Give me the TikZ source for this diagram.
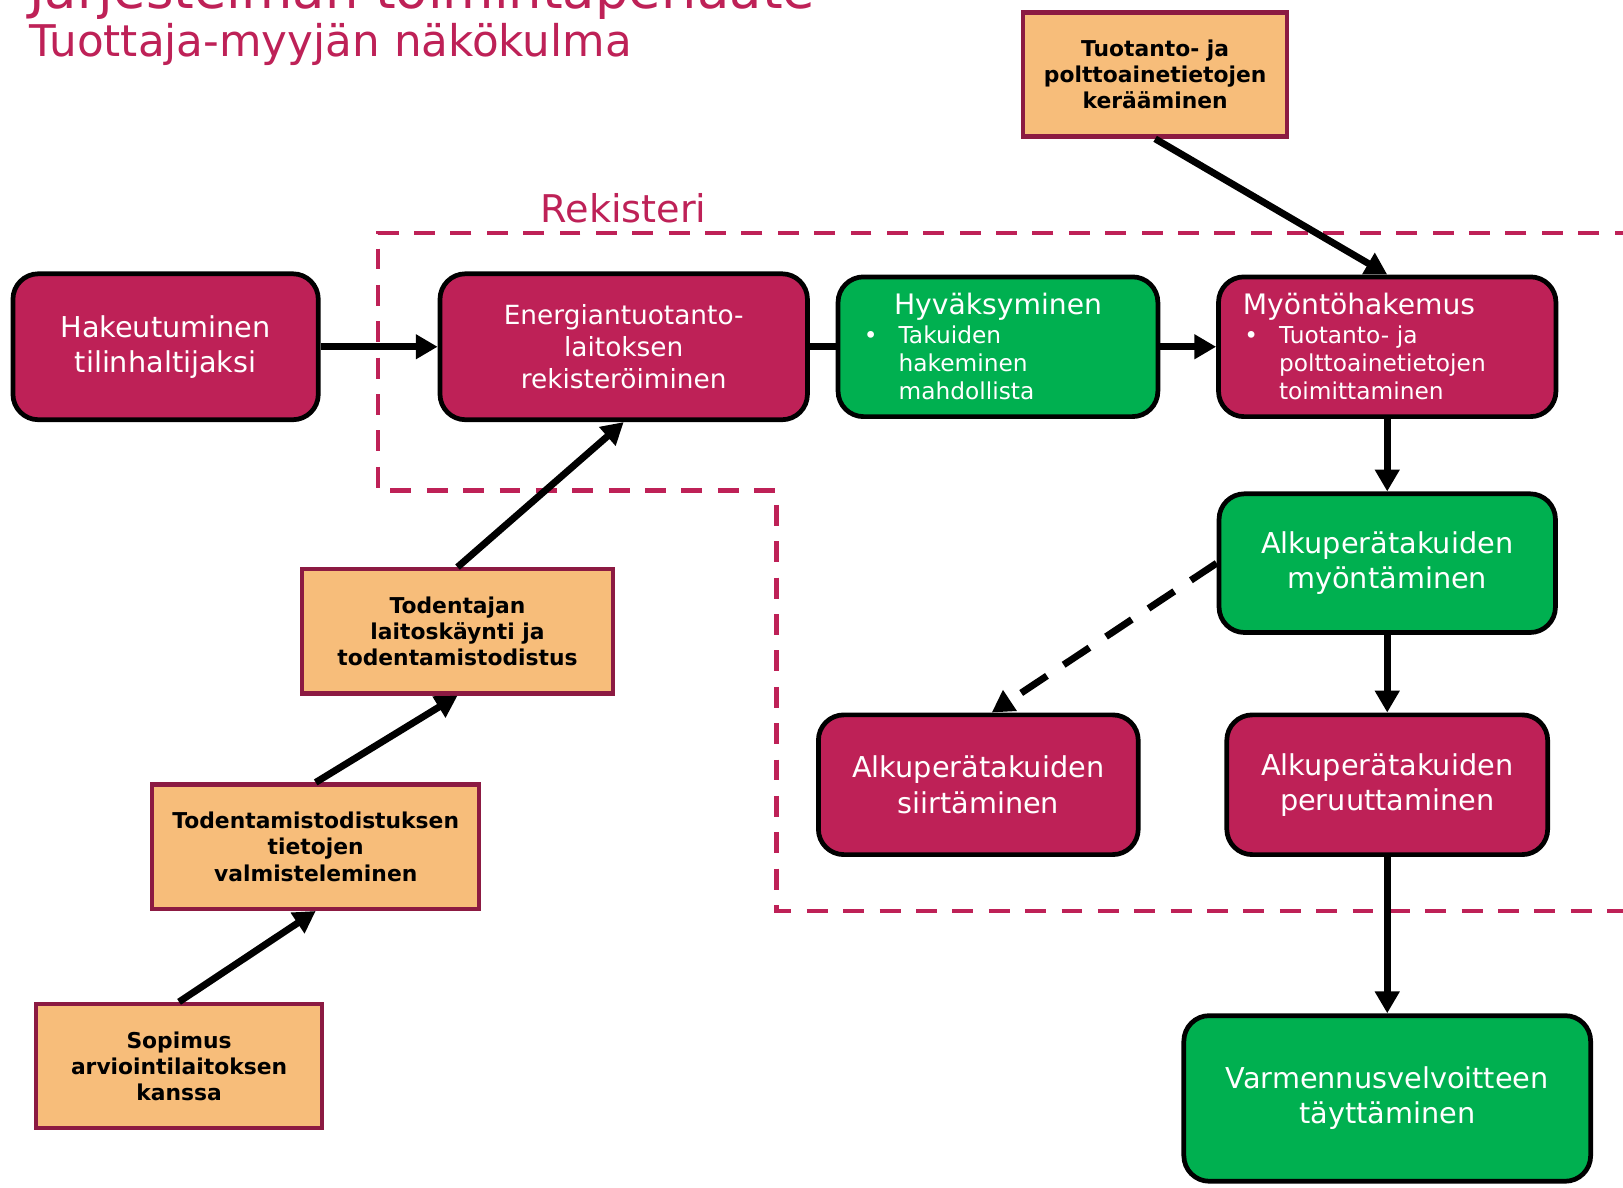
\documentclass[tikz,border=0pt]{standalone}
\usepackage{fontspec}
\setmainfont{DejaVu Sans}
\usetikzlibrary{arrows.meta,positioning}

\definecolor{rekpun}{RGB}{190,33,87}
\definecolor{hyvvihr}{RGB}{0,176,80}
\definecolor{tietooranssi}{RGB}{247,189,122}
\definecolor{tietoreuna}{RGB}{140,26,66}

\newcommand{\isofontti}{\fontsize{15.8}{19.3}\selectfont}
\newcommand{\luettelo}[1]{\par\hspace*{0.5cm}\makebox[0.67cm][l]{\textbullet}\parbox[t]{4.6cm}{\raggedright #1}}

\tikzset{
  vaihe/.style={draw=black, line width=2.6pt, rounded corners=14pt, text=white,
    align=center, font=\isofontti, minimum height=2.82cm, inner sep=0pt},
  punavaihe/.style={vaihe, fill=rekpun},
  vihrvaihe/.style={vaihe, fill=hyvvihr},
  tietolaatikko/.style={draw=tietoreuna, fill=tietooranssi, line width=2.4pt,
    align=center, font=\fontsize{12}{14.4}\selectfont\bfseries,
    minimum height=2.4cm, inner sep=0pt},
  nuoli/.style={line width=3.8pt, -{Triangle[length=12pt,width=13pt]}},
  rajaus/.style={draw=rekpun, line width=2.5pt, dash pattern=on 11.5pt off 8.5pt},
  otsikko/.style={text=rekpun, anchor=base west, inner sep=0pt}
}

\begin{document}
\begin{tikzpicture}[x=0.2mm, y=-0.2mm]
  \useasboundingbox (0,0) rectangle (1568,1147);
  \fill[white] (0,0) rectangle (1568,1147);

  % otsikot
  \node[otsikko, font=\fontsize{29}{34}\selectfont] (otsikko1) at (28,8) {Järjestelmän toimintaperiaate};
  \node[otsikko, font=\fontsize{24}{29}\selectfont] (otsikko2) at (28,55) {Tuottaja-myyjän näkökulma};

  % rekisterin raja
  \draw[rajaus] (1580,225) -- (365,225) -- (365,474) -- (750,474) -- (750,880) -- (1580,880);
  \node[otsikko, font=\fontsize{21}{25}\selectfont] (rekisteri) at (522,215) {Rekisteri};

  % vaiheet
  \node[punavaihe, minimum width=5.9cm] (hakeutuminen) at (160,335) {Hakeutuminen\\tilinhaltijaksi};
  \node[punavaihe, minimum width=7.1cm, font=\fontsize{14.5}{17.6}\selectfont,
        right=2.26cm of hakeutuminen] (rekisterointi) {Energiantuotanto-\\laitoksen\\rekisteröiminen};
  \node[vihrvaihe, minimum width=6.18cm, minimum height=2.7cm, text width=6.18cm, align=left,
        font=\fontsize{12.8}{15.6}\selectfont, right=0.5cm of rekisterointi] (hyvaksyminen)
        {{\centering\fontsize{15.5}{18}\selectfont Hyväksyminen\par}\luettelo{Takuiden\\hakeminen\\mahdollista}};
  \node[punavaihe, minimum width=6.52cm, minimum height=2.7cm, text width=6.52cm, align=left,
        font=\fontsize{12.8}{15.6}\selectfont, right=1.08cm of hyvaksyminen] (myontohakemus)
        {\hspace*{0.47cm}{\fontsize{15.5}{18}\selectfont Myöntöhakemus}\par\luettelo{Tuotanto- ja\\polttoainetietojen\\toimittaminen}};
  \node[vihrvaihe, minimum width=6.5cm, minimum height=2.68cm, below=1.4cm of myontohakemus] (myontaminen) {Alkuperätakuiden\\myöntäminen};
  \node[punavaihe, minimum width=6.2cm, minimum height=2.7cm, below=1.5cm of myontaminen] (peruuttaminen) {Alkuperätakuiden\\peruuttaminen};
  \node[punavaihe, minimum width=6.18cm, minimum height=2.7cm, left=1.62cm of peruuttaminen] (siirtaminen) {Alkuperätakuiden\\siirtäminen};
  \node[vihrvaihe, minimum width=7.86cm, minimum height=3.2cm, below=3.02cm of peruuttaminen] (varmennus) {Varmennusvelvoitteen\\täyttäminen};

  % tiedot
  \node[tietolaatikko, minimum width=5.1cm] (keruu) at (1116,72) {Tuotanto- ja\\polttoainetietojen\\kerääminen};
  \node[tietolaatikko, minimum width=6.0cm] (todentaja) at (442,610) {Todentajan\\laitoskäynti ja\\todentamistodistus};
  \node[tietolaatikko, minimum width=6.32cm] (valmistelu) at (305,818) {Todentamistodistuksen\\tietojen\\valmisteleminen};
  \node[tietolaatikko, minimum width=5.52cm] (sopimus) at (173,1030) {Sopimus\\arviointilaitoksen\\kanssa};

  % nuolet
  \draw[nuoli] (hakeutuminen) -- (rekisterointi);
  \draw[line width=3.8pt] (rekisterointi) -- (hyvaksyminen);
  \draw[nuoli] (hyvaksyminen) -- (myontohakemus);
  \draw[nuoli] (keruu.south) -- (myontohakemus.north);
  \draw[nuoli] (myontohakemus) -- (myontaminen);
  \draw[nuoli] (myontaminen.south) -- (peruuttaminen.north);
  \draw[nuoli, dash pattern=on 17pt off 11pt] (myontaminen.west) -- ([xshift=0.26cm]siirtaminen.north);
  \draw[nuoli] (peruuttaminen) -- (varmennus);
  \draw[nuoli] (sopimus.north) -- (valmistelu.south);
  \draw[nuoli] (valmistelu.north) -- (todentaja.south);
  \draw[nuoli] (todentaja.north) -- (rekisterointi.south);
\end{tikzpicture}
\end{document}
